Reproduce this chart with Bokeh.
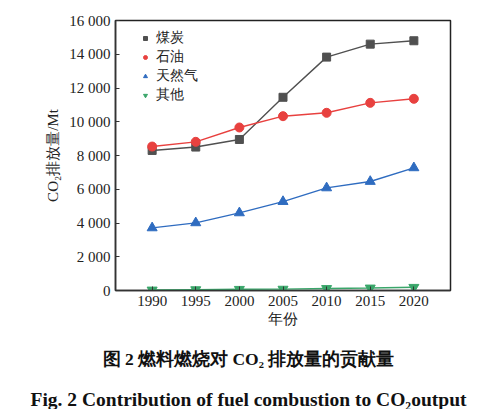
from bokeh.plotting import figure
from bokeh.models import FixedTicker, Range1d, Title, Legend, LegendItem
from bokeh.embed import file_html
from bokeh.resources import INLINE

years = [1990, 1995, 2000, 2005, 2010, 2015, 2020]
coal = [8300, 8500, 8950, 11450, 13830, 14600, 14800]
oil = [8530, 8810, 9660, 10330, 10530, 11120, 11360]
gas = [3710, 4010, 4600, 5270, 6080, 6460, 7270]
other = [30, 50, 70, 80, 120, 150, 190]
series_names = ["煤炭", "石油", "天然气", "其他"]
y_ticks = [0, 2000, 4000, 6000, 8000, 10000, 12000, 14000, 16000]
y_tick_labels = ["0", "2 000", "4 000", "6 000", "8 000", "10 000", "12 000", "14 000", "16 000"]
x_label = "年份"
y_label = "CO₂排放量/Mt"
caption_cn = "图 2    燃料燃烧对 CO₂ 排放量的贡献量"
caption_en = "Fig. 2    Contribution of fuel combustion to CO₂output"

SERIF = "Liberation Serif"

p = figure(width=475, height=403, output_backend="svg", toolbar_location=None,
           x_range=Range1d(1985.8, 2024.2), y_range=Range1d(0, 16000),
           frame_width=335, frame_height=270,
           min_border_left=115, min_border_right=25, min_border_top=20, min_border_bottom=4)

p.grid.visible = False
p.background_fill_color = "white"
p.border_fill_color = "white"
p.outline_line_color = "#222222"
p.outline_line_width = 1.5

for ax in (p.xaxis[0], p.yaxis[0]):
    ax.axis_line_color = "#333333"
    ax.axis_line_width = 1.5
    ax.major_tick_in = 4
    ax.major_tick_out = 0
    ax.minor_tick_line_color = None
    ax.major_tick_line_color = "#333333"
    ax.major_label_text_font = SERIF
    ax.major_label_text_font_size = "15px"
    ax.major_label_text_color = "#222222"
    ax.axis_label_text_font = SERIF
    ax.axis_label_text_font_size = "15px"
    ax.axis_label_text_font_style = "normal"
    ax.axis_label_text_color = "#222222"

p.xaxis.ticker = FixedTicker(ticks=years)
p.xaxis.major_label_standoff = 5
p.xaxis.axis_label = x_label
p.xaxis.axis_label_standoff = 2

p.yaxis.ticker = FixedTicker(ticks=y_ticks)
p.yaxis.major_label_overrides = {t: l for t, l in zip(y_ticks, y_tick_labels)}
p.yaxis.major_label_standoff = 5
p.yaxis.axis_label = y_label
p.yaxis.axis_label_standoff = 5

styles = [
    (coal, "#505050", "square", 8),
    (oil, "#e8413f", "circle", 9),
    (gas, "#2f6cc0", "triangle", 10),
    (other, "#3aa66a", "inverted_triangle", 10),
]
items = []
for (vals, color, marker, size), name in zip(styles, series_names):
    p.line(years, vals, line_color=color, line_width=1.4)
    r = p.scatter(years, vals, marker=marker, size=size, fill_color=color, line_color=color)
    items.append(LegendItem(label=name, renderers=[r]))

legend = Legend(items=items, location=(25, 186))
legend.label_text_font = SERIF
legend.label_text_font_size = "14px"
legend.label_text_color = "#222222"
legend.glyph_width = 10
legend.glyph_height = 10
legend.label_standoff = 6
legend.spacing = 1
legend.label_height = 16
legend.padding = 0
legend.margin = 0
legend.border_line_color = None
legend.background_fill_alpha = 0
p.add_layout(legend)

t_cn = Title(text=caption_cn, align="left", offset=-13, text_font=SERIF,
             text_font_size="17.5px", text_font_style="bold", text_color="#111111", standoff=35)
t_en = Title(text=caption_en, align="left", offset=-85, text_font=SERIF,
             text_font_size="19.5px", text_font_style="bold", text_color="#111111", standoff=0)
p.add_layout(t_cn, "below")
p.add_layout(t_en, "below")

open("out.html", "w").write(file_html(p, INLINE))
